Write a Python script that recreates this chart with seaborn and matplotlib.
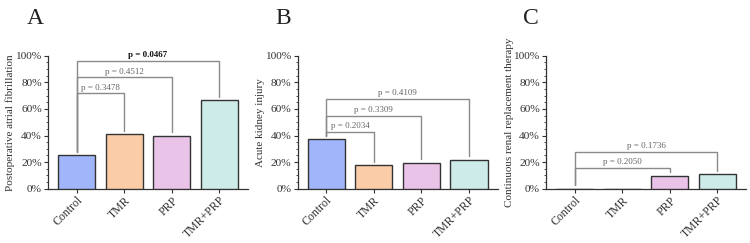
import numpy as np
import pandas as pd
import matplotlib
matplotlib.use("Agg")
import matplotlib.pyplot as plt
from matplotlib.ticker import AutoMinorLocator, PercentFormatter
import seaborn as sns

GROUPS = ["Control", "TMR", "PRP", "TMR+PRP"]
COLORS = ["#a1b5fa", "#fbcca8", "#e9c4e8", "#cdebe9"]

POAF = [25.1, 40.9, 39.8, 66.7]
AKI = [37.1, 17.6, 19.5, 21.8]
CRRT = [0.0, 0.0, 9.8, 10.8]

PANEL_LETTERS = ["A", "B", "C"]
YLABELS = ["Postoperative atrial fibrillation", "Acute kidney injury",
           "Continuous renal replacement therapy"]

# brackets: (target group index, bracket top %, p label, bold)
BRACKETS_A = [(1, 71.7, "p = 0.3478", False), (2, 83.7, "p = 0.4512", False),
              (3, 96.3, "p = 0.0467", True)]
BRACKETS_B = [(1, 42.6, "p = 0.2034", False), (2, 54.7, "p = 0.3309", False),
              (3, 67.4, "p = 0.4109", False)]
BRACKETS_C = [(2, 15.8, "p = 0.2050", False), (3, 27.8, "p = 0.1736", False)]

sns.set_style("ticks")
plt.rcParams["font.family"] = ["Liberation Serif", "DejaVu Serif"]

fig = plt.figure(figsize=(7.5, 2.43), dpi=100)
lefts = [48 / 750, 297.5 / 750, 546 / 750]
width = 200 / 750
bottom = 54.3 / 243
height = 133 / 243
letter_x = [35 / 750, 283 / 750, 531 / 750]

datasets = [POAF, AKI, CRRT]
brackets = [BRACKETS_A, BRACKETS_B, BRACKETS_C]

for k in range(3):
    ax = fig.add_axes([lefts[k], bottom, width, height])
    df = pd.DataFrame({"group": GROUPS, "value": datasets[k]})
    sns.barplot(data=df, x="group", y="value", hue="group", palette=COLORS,
                legend=False, width=0.78, edgecolor="#333333", linewidth=1.0,
                saturation=1, ax=ax, zorder=3)
    ax.set_xlim(-0.6, 3.6)
    ax.set_ylim(0, 100)
    ax.set_yticks(np.arange(0, 101, 20))
    ax.yaxis.set_major_formatter(PercentFormatter(decimals=0))
    ax.yaxis.set_minor_locator(AutoMinorLocator(4))
    ax.tick_params(axis="y", which="major", length=3, width=0.8, labelsize=8.2,
                   pad=1.5, colors="#333333")
    ax.tick_params(axis="y", which="minor", length=1.5, width=0.6, colors="#333333")
    ax.tick_params(axis="x", length=3, width=0.8, labelsize=8.5, pad=1,
                   colors="#333333")
    for lab in ax.get_xticklabels():
        lab.set_rotation(45)
        lab.set_ha("right")
        lab.set_rotation_mode("anchor")
    ax.set_xlabel("")
    ax.set_ylabel(YLABELS[k], fontsize=8, labelpad=0, color="#333333")
    for s in ["top", "right"]:
        ax.spines[s].set_visible(False)
    for s in ["left", "bottom"]:
        ax.spines[s].set_linewidth(0.9)
        ax.spines[s].set_color("#333333")

    vals = datasets[k]
    for tgt, top, label, bold in brackets[k]:
        y0 = vals[0] + 2.5
        y1 = vals[tgt] + 2.5
        ax.plot([0, 0, tgt, tgt], [y0, top, top, y1], color="#8a8a8a",
                lw=1.0, clip_on=False, zorder=4)
        ax.text(tgt / 2, top + 1.2, label, ha="center", va="bottom",
                fontsize=6.5, color="#111111" if bold else "#666666",
                fontweight="bold" if bold else "normal")

    fig.text(letter_x[k], 1 - 18 / 243, PANEL_LETTERS[k], fontsize=17,
             ha="center", va="center", color="#222222")

fig.savefig("out.png", dpi=100)
